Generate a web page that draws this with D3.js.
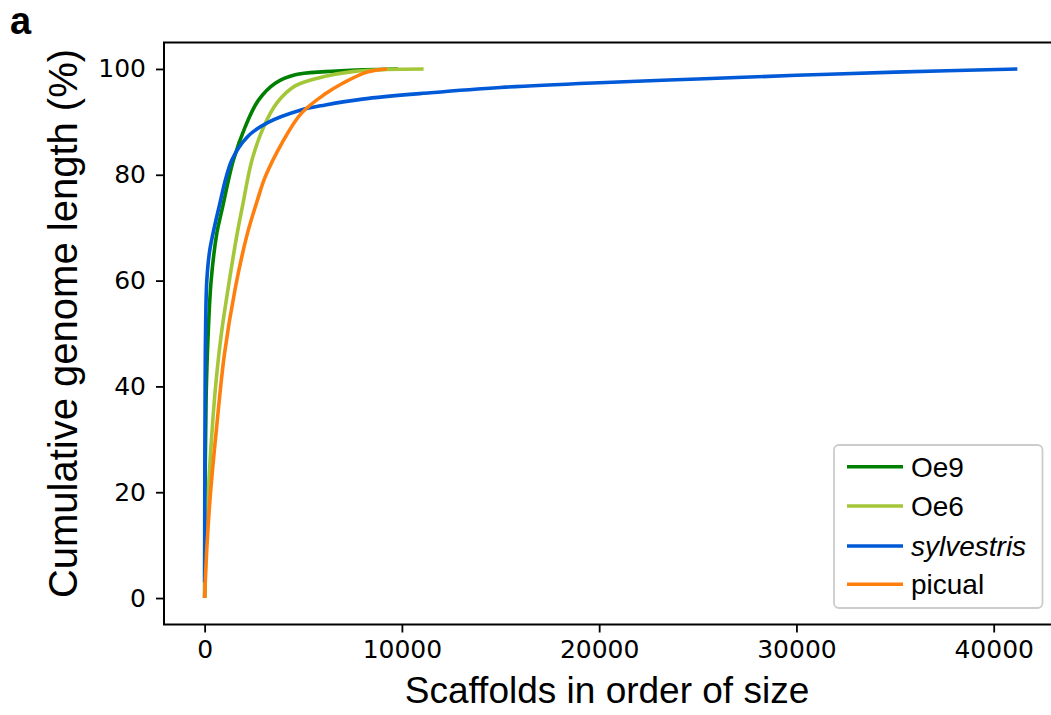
<!DOCTYPE html>
<html>
<head>
<meta charset="utf-8">
<script src="https://cdn.jsdelivr.net/npm/d3@7/dist/d3.min.js"></script>
<style>
html,body{margin:0;padding:0;background:#fff;}
svg{display:block;}
</style>
</head>
<body>
<svg id="chart" width="1051" height="715"></svg>
<script>
// ---- data ----
const seriesNames = ["Oe9", "Oe6", "sylvestris", "picual"];
const seriesColors = ["#008000", "#a4c639", "#0059d6", "#ff7f0e"];
const xTicks = [0, 10000, 20000, 30000, 40000];
const yTicks = [0, 20, 40, 60, 80, 100];

// [scaffold rank, cumulative %]
const oe9 = [[0,0],[20,20],[76,38],[180,50],[330,60],[620,69],[875,73.3],[1460,82.8],[2060,89.1],[2730,94.1],[3580,97.3],[4590,98.9],[6120,99.5],[8000,99.85],[9800,100]];
const oe6 = [[0,0],[120,15],[365,31],[580,41],[850,50],[1210,59],[1630,68.5],[1940,74.5],[2400,82.8],[2985,89],[3665,93.6],[4590,96.8],[6120,98.6],[7500,99.5],[9200,99.9],[11100,100]];
const sylvestris = [[0,3],[10,25],[25,40],[45,50],[110,60],[250,65.5],[430,69],[690,73.3],[1380,82.8],[2200,87.3],[3220,89.9],[4850,92.2],[6120,93.2],[8000,94.3],[11450,95.5],[15000,96.5],[20000,97.4],[25000,98.1],[30000,98.8],[35000,99.4],[41200,100]];
const picual = [[0,0],[120,10],[300,20],[600,32],[1000,46],[1550,58.5],[2140,68.5],[2700,75.5],[3070,79.6],[3920,86],[4900,91.6],[6120,95.3],[7000,97.3],[8230,99.4],[9250,100]];
const seriesData = [oe9, oe6, sylvestris, picual];

// ---- layout ----
const svg = d3.select("#chart");
const L = 164, R = 1058, T = 42.5, B = 624.5;
const xMax = d3.max(seriesData.flat(), d => d[0]);
const xPad = xMax * 0.05;
const x = d3.scaleLinear().domain([-xPad, xMax + xPad]).range([L, R]);
const y = d3.scaleLinear().domain([-5, 105]).range([B, T]);

const tickFont = "'DejaVu Sans', sans-serif";
const labFont = "'Liberation Sans', Arial, sans-serif";

// lines
const line = d3.line().x(d => x(d[0])).y(d => y(d[1])).curve(d3.curveCatmullRom.alpha(0.5));
const plot = svg.append("g");
seriesData.forEach((s, i) => {
  plot.append("path").attr("d", line(s)).attr("fill", "none")
    .attr("stroke", seriesColors[i]).attr("stroke-width", 3.6)
    .attr("stroke-linejoin", "round");
});

// axes
const xAxis = d3.axisBottom(x).tickValues(xTicks).tickSize(8).tickPadding(8).tickFormat(d3.format("d"));
const yAxis = d3.axisLeft(y).tickValues(yTicks).tickSize(8).tickPadding(10).tickFormat(d3.format("d"));
const gx = svg.append("g").attr("transform", `translate(0,${B})`).call(xAxis);
const gy = svg.append("g").attr("transform", `translate(${L},0)`).call(yAxis);
[gx, gy].forEach(g => {
  g.select(".domain").remove();
  g.selectAll(".tick line").attr("stroke", "#000").attr("stroke-width", 1.8);
  g.selectAll(".tick text").attr("fill", "#000").style("font-family", tickFont).style("font-size", "25px");
});

// spines
svg.append("rect").attr("x", L).attr("y", T).attr("width", R - L).attr("height", B - T)
  .attr("fill", "none").attr("stroke", "#000").attr("stroke-width", 2);

// axis titles
svg.append("text").attr("x", (L + R) / 2 - 4).attr("y", 703).attr("text-anchor", "middle")
  .style("font-family", labFont).style("font-size", "37px").attr("fill", "#000")
  .text("Scaffolds in order of size");
svg.append("text").attr("transform", `translate(77,${(T + B) / 2 - 10}) rotate(-90)`).attr("text-anchor", "middle")
  .style("font-family", labFont).style("font-size", "40px").attr("fill", "#000")
  .text("Cumulative genome length (%)");

// panel label
svg.append("text").attr("x", 10).attr("y", 34).style("font-family", labFont)
  .style("font-size", "38px").style("font-weight", "bold").attr("fill", "#000").text("a");

// legend
const lg = svg.append("g");
lg.append("rect").attr("x", 834).attr("y", 445).attr("width", 208.5).attr("height", 163)
  .attr("rx", 5).attr("fill", "#fff").attr("fill-opacity", 0.8).attr("stroke", "#cccccc").attr("stroke-width", 1.8);
const legY = [466.7, 506, 546, 584.3];
seriesNames.forEach((n, i) => {
  lg.append("line").attr("x1", 847).attr("x2", 903).attr("y1", legY[i]).attr("y2", legY[i])
    .attr("stroke", seriesColors[i]).attr("stroke-width", 3.6);
  lg.append("text").attr("x", 911).attr("y", legY[i] + 10).style("font-family", labFont)
    .style("font-size", "28px").style("font-style", n === "sylvestris" ? "italic" : "normal")
    .attr("fill", "#000").text(n);
});
</script>
</body>
</html>
